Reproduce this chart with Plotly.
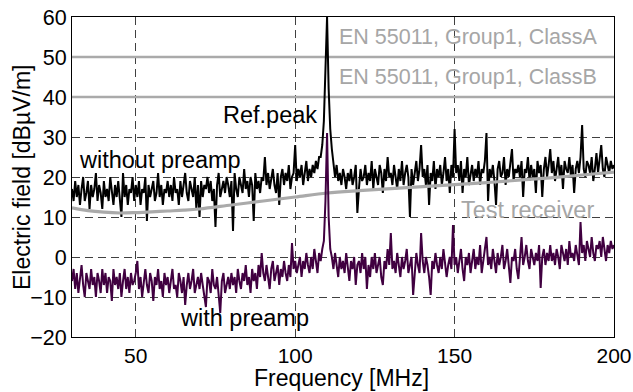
import numpy as np
import plotly.graph_objects as go

# Frequency grid of the two measured spectra (MHz), 0.5 MHz step
freq = np.linspace(30, 200, 341)

# Electric field without preamp [dBuV/m] (0.5 MHz steps)
without_preamp = [
    17, 14, 19, 15, 18, 13, 17, 20, 14, 16, 19, 12, 18, 15, 17, 21, 14, 18, 16, 12,
    19, 15, 17, 14, 20, 16, 13, 18, 15, 19, 14, 10, 21, 15, 18, 13, 17, 16, 20, 14,
    18, 15, 19, 13, 17, 16, 20, 9, 18, 15, 17, 19, 14, 16, 21, 15, 18, 13, 17, 16,
    19, 15, 18, 14, 20, 16, 17, 13, 19, 15, 18, 21, 16, 14, 19, 17, 15, 20, 12, 18,
    10, 19, 15, 18, 17, 20, 16, 19, 14, 17, 7.5, 18, 21, 15, 17, 19, 16, 20, 18, 15,
    19, 6.5, 21, 17, 15, 20, 18, 16, 22, 17, 19, 15, 20, 18, 9, 21, 17, 19, 16, 20,
    19, 25, 18, 21, 17, 20, 22, 18, 16, 21, 13, 20, 22, 18, 21, 19, 23, 17, 20, 21,
    28, 19, 22, 20, 23, 18, 21, 24, 19, 22, 20, 23, 21, 24, 22, 25, 25, 28, 34, 45,
    60, 42, 32, 27, 24, 20, 23, 19, 21, 18, 22, 20, 17, 21, 19, 22, 18, 20, 23, 11,
    17, 22, 19, 20, 23, 18, 21, 19, 24, 17, 22, 20, 18, 23, 21, 16, 22, 19, 25, 20,
    21, 18, 23, 20, 17, 22, 19, 24, 18, 21, 23, 20, 10, 22, 18, 21, 24, 19, 22, 28,
    20, 22, 18, 23, 13, 21, 19, 24, 17, 22, 20, 23, 18, 21, 25, 19, 22, 16, 23, 20,
    32, 21, 23, 19, 24, 16, 22, 20, 25, 18, 21, 23, 19, 22, 20, 24, 18, 22, 21, 24,
    31, 14, 22, 20, 23, 19, 13, 22, 24, 20, 21, 25, 18, 22, 20, 23, 27, 19, 22, 21,
    23, 20, 24, 15, 22, 21, 25, 19, 23, 20, 22, 16, 24, 21, 23, 15, 22, 25, 20, 23,
    27, 21, 24, 19, 22, 25, 20, 23, 17, 24, 22, 21, 25, 20, 23, 16, 22, 24, 21, 25,
    33, 22, 20, 24, 23, 21, 25, 19, 22, 26, 21, 24, 28, 22, 20, 25, 23, 21, 24, 22, 23,
]

# Electric field with preamp [dBuV/m]
with_preamp = [
    -6, -3, -8, -4, -9, -5, -2, -7, -10, -4, -6, -8, -3, -7, -5, -10, -4, -6, -9, -3,
    -7, -4, -9, -5, -6, -11, -3, -7, -5, -8, -4, -10, -6, -3, -8, -5, -9, -4, -7, -6,
    -4, -1, -8, -5, -10, -6, -3, -7, -9, -4, -6, -11, -5, -7, -3, -8, -6, -10, -4, -7,
    -5, -9, -6, -3, -8, -7, -10, -4, -6, -9, -5, -12, -7, -4, -8, -6, -3, -9, -7, -5,
    -8, -4, -7, -10, -12.5, -5, -6, -9, -3, -7, -8, -5, -10, -14, -6, -4, -9, -7, -5, -8,
    -4, -7, -5, -9, -3, -6, -8, -4, -6, -2, -7, -5, -9, -3, -6, -4, -8, -2, -5, 1,
    -4, -6, -2, -5, -8, -3, -1, -6, -4, -2, -7, -3, -5, -1, -4, -6, -2, -5, 3.5, -3,
    -1, -4, -2, 0, -5, -1, -3, 1, -2, -4, 0, -3, 2, -1, -4, 1, -1, 2, 4, 14,
    31, 10, 2, 0, -3, 1, -2, -5, 0, -3, -1, -4, 1, -2, -6, -1, -3, 0, -7, -2,
    -1, -4, 1, -3, 0, -8, -2, -5, 0, -3, 1, -4, -2, 0, -5, -7, -1, -3, 2, -2,
    6, -3, -1, -4, 1, -2, -5, 0, -3, -1, 2, -4, -2, 0, -9.5, -3, 1, -2, -4, 6,
    -1, -4, 0, -2, -5, -9.5, -1, -3, 1, -2, -4, 0, -3, 2, -1, -5, -2, 0, -3, 8,
    -2, 0, -4, -1, 2, -3, -6, 0, -2, 1, -4, -1, 2, -3, 0, -2, 3, -4, -1, 1,
    5, -2, 0, -3, 2, -1, -4, 1, -2, 0, 3, -3, -1, 2, -2, -6.5, 0, -1, 2, -3,
    -5.5, 1, 5, -2, 0, 3, -1, -3, 2, 0, -2, 1, -1, 3, -7.75, 0, 2, -2, 1, -1,
    3, -1, 1, -2, 2, 0, -3, 3, 1, -1, 2, -2, 4, 0, 1, -1, 3, 0, -2, 8.75,
    1, 3, -1, 4, 2, 0, 5, 1, -1, 3, 2, 4, 0, 5, 2, -1, 3, 1, 4, 2, 3,
]

# Test receiver noise floor
rx_freq = [30, 35, 40, 45, 50, 55, 60, 65, 70, 80, 90, 100, 110, 120, 130,
           140, 150, 160, 170, 180, 190, 200]
rx_level = [12.3, 11.6, 11.2, 11.0, 11.1, 11.3, 11.5, 11.7, 12.0, 13.0, 14.0,
            15.0, 16.0, 16.6, 17.1, 17.6, 18.1, 18.6, 19.2, 19.8, 20.5, 21.2]

# EN 55011 limits
limit_freq = [30, 200]
limit_a = [50, 50]
limit_b = [40, 40]

x_ticks = [50, 100, 150, 200]
y_ticks = [-20, -10, 0, 10, 20, 30, 40, 50, 60]

GRAY = "#aaaaaa"
TXTGRAY = "#a6a6a6"
PURPLE = "#400040"
FONT = "Liberation Sans, Arial, sans-serif"

fig = go.Figure()
fig.add_trace(go.Scatter(x=limit_freq, y=limit_a, mode="lines",
                         line=dict(color=GRAY, width=2.5), hoverinfo="skip"))
fig.add_trace(go.Scatter(x=limit_freq, y=limit_b, mode="lines",
                         line=dict(color=GRAY, width=2.5), hoverinfo="skip"))
fig.add_trace(go.Scatter(x=freq, y=without_preamp, mode="lines",
                         line=dict(color="black", width=2)))
fig.add_trace(go.Scatter(x=rx_freq, y=rx_level, mode="lines",
                         line=dict(color=GRAY, width=3.2, shape="spline")))
fig.add_trace(go.Scatter(x=freq, y=with_preamp, mode="lines",
                         line=dict(color=PURPLE, width=2)))

ann = [
    dict(x=195.3, y=54.9, text="EN 55011, Group1, ClassA", xanchor="right",
         font=dict(color=TXTGRAY, size=21.5)),
    dict(x=195.3, y=44.9, text="EN 55011, Group1, ClassB", xanchor="right",
         font=dict(color=TXTGRAY, size=21.5)),
    dict(x=107.4, y=35.5, text="Ref.peak", xanchor="right",
         font=dict(color="black", size=23.5)),
    dict(x=31.6, y=24.25, text="without preamp", xanchor="left",
         font=dict(color="black", size=23.5)),
    dict(x=63.2, y=-15.25, text="with preamp", xanchor="left",
         font=dict(color="black", size=23.5)),
    dict(x=194.4, y=11.75, text="Test receiver", xanchor="right",
         font=dict(color=TXTGRAY, size=23.5)),
]
for a in ann:
    a.update(xref="x", yref="y", yanchor="middle", showarrow=False)
# axis titles as paper-anchored annotations
ann.append(dict(xref="paper", yref="paper", x=0.497, y=-0.128,
                xanchor="center", yanchor="middle", showarrow=False,
                text="Frequency [MHz]", font=dict(color="black", size=23)))
ann.append(dict(xref="paper", yref="paper", x=-0.0923, y=0.5,
                xanchor="center", yanchor="middle", showarrow=False,
                textangle=-90, text="Electric field [dBµV/m]",
                font=dict(color="black", size=23)))
for a in ann:
    a["font"]["family"] = FONT

fig.update_layout(
    width=633, height=392,
    margin=dict(l=72, r=19, t=17, b=55),
    paper_bgcolor="white", plot_bgcolor="white",
    showlegend=False,
    font=dict(family=FONT, color="black", size=21),
    annotations=ann,
)
fig.update_xaxes(
    range=[30, 200], tickvals=x_ticks, ticks="", automargin=False,
    showgrid=True, gridcolor="#404040", griddash="8px,5px", gridwidth=1,
    showline=True, linecolor="black", linewidth=1, mirror=True,
    zeroline=False, tickfont=dict(size=21), ticklabelstandoff=0,
)
fig.update_yaxes(
    range=[-20, 60], tickvals=y_ticks, ticks="", automargin=False,
    showgrid=True, gridcolor="#404040", griddash="8px,5px", gridwidth=1,
    showline=True, linecolor="black", linewidth=1, mirror=True,
    zeroline=False, tickfont=dict(size=21.5),
)

fig.write_html("out.html")
